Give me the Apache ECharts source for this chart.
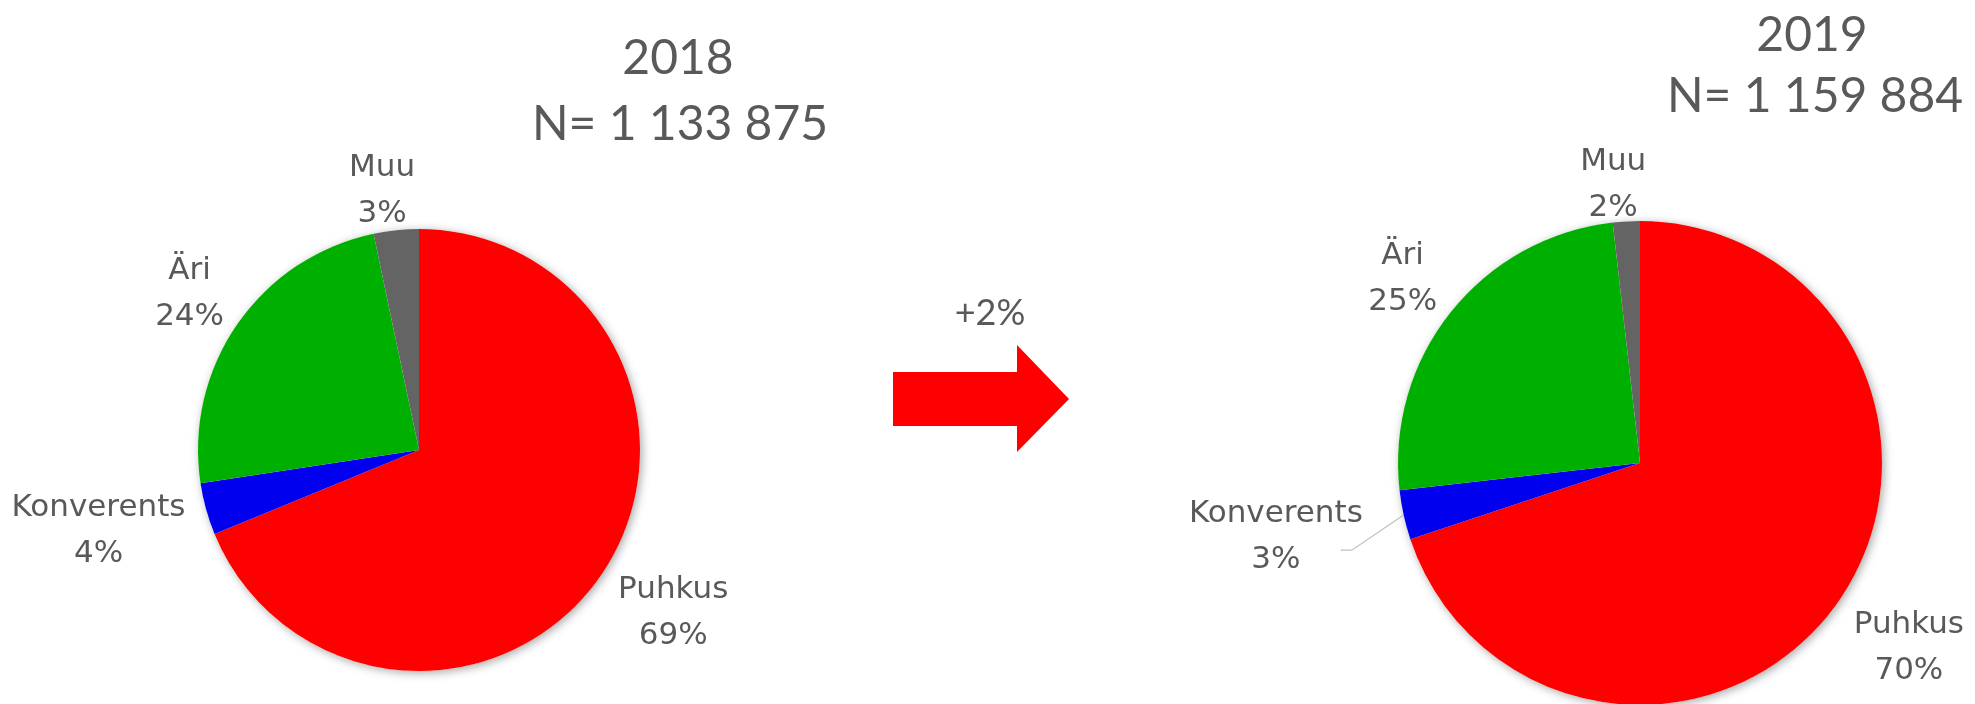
<!DOCTYPE html>
<html>
<head>
<meta charset="utf-8">
<script src="https://cdn.jsdelivr.net/npm/echarts@6/dist/echarts.min.js"></script>
<style>
html, body { margin: 0; padding: 0; background: #fff; }
#main { width: 1975px; height: 704px; }
</style>
</head>
<body>
<div id="main"></div>
<script>
// data
const categories = ['Puhkus', 'Konverents', 'Äri', 'Muu'];
const values2018 = [68.8, 3.8, 24.1, 3.3];
const values2019 = [69.9, 3.3, 25.0, 1.8];
const years = ['2018', '2019'];
const totals = ['N= 1 133 875', 'N= 1 159 884'];
const changeText = '+2%';

const colors = ['#ff0000', '#0000ee', '#00b000', '#646464'];
const textColor = '#595959';

// pie placement, extra label push and small label nudges per slice
const pies = [
  {
    center: [419, 450], radius: 221, values: values2018,
    push: [0, 0, 0, 0],
    nudge: [[8, -2], [-2, -7], [0, 3], [-10, 0]]
  },
  {
    center: [1640, 463], radius: 242, values: values2019,
    push: [0, 21, 0, 0],
    nudge: [[12, 0], [0, -6], [-3, 3], [-11, 1]]
  }
];

const midDir = (vals, i) => {
  const total = vals.reduce((a, b) => a + b, 0);
  let before = 0;
  for (let k = 0; k < i; k++) before += vals[k];
  const a = (before + vals[i] / 2) / total * Math.PI * 2;
  return [Math.sin(a), -Math.cos(a)];
};

const labelLayout = (params) => {
  const p = pies[params.seriesIndex];
  const i = params.dataIndex;
  const d = midDir(p.values, i);
  const hw = params.labelRect.width / 2;
  const hh = params.labelRect.height / 2 * 0.3;
  const push = p.push[i];
  const dist = p.radius + 22 + push + hw * Math.abs(d[0]) + hh * Math.abs(d[1]);
  const x = p.center[0] + d[0] * dist + p.nudge[i][0];
  const y = p.center[1] + d[1] * dist + p.nudge[i][1];
  const res = { x: x, y: y, align: 'center', verticalAlign: 'middle' };
  if (push) {
    const edge = [p.center[0] + d[0] * p.radius, p.center[1] + d[1] * p.radius];
    const end = [x + hw - 22, y + 13];
    res.labelLinePoints = [edge, [end[0] + 11, end[1]], end];
  }
  return res;
};

const makeSeries = (p) => ({
  type: 'pie',
  center: p.center,
  radius: p.radius,
  startAngle: 90,
  clockwise: true,
  avoidLabelOverlap: false,
  z: 2,
  label: {
    show: true,
    position: 'outside',
    fontFamily: 'DejaVu Sans',
    fontSize: 31,
    lineHeight: 46,
    color: textColor,
    formatter: (prm) => prm.name + '\n' + Math.round(prm.percent) + '%'
  },
  labelLine: { show: false },
  labelLayout: labelLayout,
  emphasis: { disabled: true },
  data: categories.map((c, i) => {
    const item = { name: c, value: p.values[i], itemStyle: { color: colors[i] } };
    if (p.push[i]) {
      item.labelLine = { show: true, length: 10, length2: 10, lineStyle: { color: '#bfbfbf', width: 1.2 } };
    }
    return item;
  })
});

// soft shadow disc behind each pie
const shadowSeries = pies.map((p) => ({
  type: 'pie',
  center: p.center,
  radius: p.radius,
  silent: true,
  z: 1,
  label: { show: false },
  labelLine: { show: false },
  itemStyle: { color: '#ffffff', shadowBlur: 10, shadowColor: 'rgba(0,0,0,0.35)', shadowOffsetX: 2, shadowOffsetY: 2 },
  data: [p.values.reduce((a, b) => a + b, 0)]
}));

const titleFont = { fontFamily: 'Lato', fontSize: 48, fill: textColor, align: 'center', verticalAlign: 'middle' };

const chart = echarts.init(document.getElementById('main'));
chart.setOption({
  animation: false,
  backgroundColor: '#ffffff',
  series: pies.map(makeSeries).concat(shadowSeries),
  graphic: [
    { type: 'text', x: 678, y: 59, style: Object.assign({ text: years[0] }, titleFont) },
    { type: 'text', x: 680, y: 125, style: Object.assign({ text: totals[0] }, titleFont) },
    { type: 'text', x: 1812, y: 36, style: Object.assign({ text: years[1] }, titleFont) },
    { type: 'text', x: 1815, y: 97, style: Object.assign({ text: totals[1] }, titleFont) },
    {
      type: 'text', x: 990, y: 313,
      style: { text: changeText, fontFamily: 'Lato', fontSize: 36, fill: textColor, align: 'center', verticalAlign: 'middle' }
    },
    {
      type: 'polygon',
      shape: { points: [[893, 372], [1017, 372], [1017, 345], [1069, 399], [1017, 452], [1017, 426], [893, 426]] },
      style: { fill: '#ff0000' }
    }
  ]
});
</script>
</body>
</html>
